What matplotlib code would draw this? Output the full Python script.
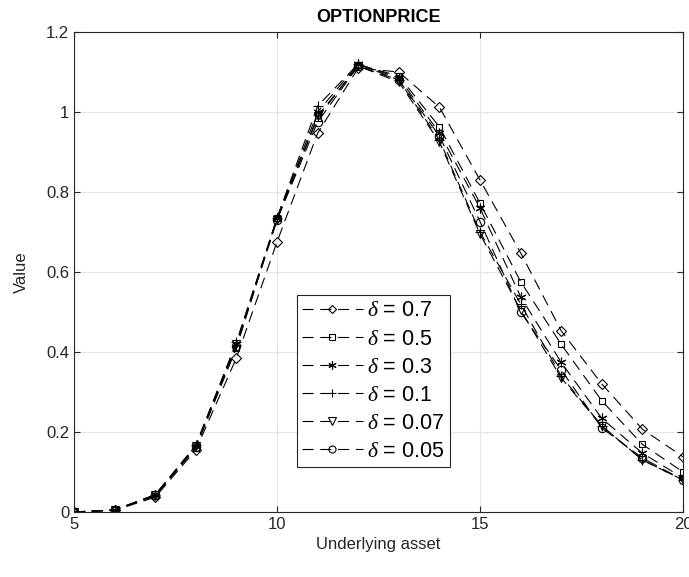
import matplotlib.pyplot as plt
import numpy as np

plt.rcParams['font.family'] = ['Liberation Sans', 'DejaVu Sans']
plt.rcParams['mathtext.fontset'] = 'custom'
plt.rcParams['mathtext.it'] = 'Liberation Serif:italic'
plt.rcParams['mathtext.rm'] = 'Liberation Serif'

x = np.arange(5, 21)
d07 = [0, 0.004, 0.037, 0.155, 0.385, 0.675, 0.947, 1.11, 1.10, 1.012, 0.83, 0.648, 0.453, 0.32, 0.207, 0.138]
d05 = [0, 0.005, 0.040, 0.160, 0.410, 0.735, 0.985, 1.118, 1.09, 0.963, 0.772, 0.576, 0.419, 0.278, 0.169, 0.100]
d03 = [0, 0.005, 0.042, 0.165, 0.420, 0.735, 1.000, 1.120, 1.085, 0.948, 0.760, 0.538, 0.374, 0.234, 0.147, 0.085]
d01 = [0, 0.005, 0.043, 0.167, 0.425, 0.735, 1.015, 1.120, 1.080, 0.930, 0.700, 0.520, 0.340, 0.215, 0.130, 0.080]
d007 = [0, 0.005, 0.043, 0.165, 0.420, 0.730, 0.990, 1.115, 1.075, 0.925, 0.695, 0.505, 0.335, 0.215, 0.130, 0.080]
d005 = [0, 0.005, 0.042, 0.163, 0.415, 0.730, 0.975, 1.115, 1.080, 0.940, 0.726, 0.500, 0.355, 0.210, 0.135, 0.080]

series = [d07, d05, d03, d01, d007, d005]
labels = [r'$\delta$ = 0.7', r'$\delta$ = 0.5', r'$\delta$ = 0.3', r'$\delta$ = 0.1', r'$\delta$ = 0.07', r'$\delta$ = 0.05']
markers = ['D', 's', (6, 2, 0), '+', 'v', 'o']
msizes = [5, 5, 7, 7, 6, 6]

fig = plt.figure(figsize=(6.89, 5.77), dpi=100)
ax = fig.add_axes([0.1074, 0.1127, 0.8839, 0.8318])

for y, lab, m, ms in zip(series, labels, markers, msizes):
    ax.plot(x, y, color='black', lw=0.8, dashes=(10, 6), marker=m, ms=ms,
            mfc='none', mec='black', mew=0.8, label=lab)

ax.set_xlim(5, 20)
ax.set_ylim(0, 1.2)
ax.set_xticks([5, 10, 15, 20])
ax.set_yticks([0, 0.2, 0.4, 0.6, 0.8, 1, 1.2])
ax.set_yticklabels(['0', '0.2', '0.4', '0.6', '0.8', '1', '1.2'])
ax.grid(True, color='#e6e6e6', lw=0.8)
ax.set_axisbelow(True)
ax.tick_params(direction='in', top=True, right=True, labelsize=12, colors='#262626', length=4)
for s in ax.spines.values():
    s.set_color('#262626')
    s.set_linewidth(0.8)
ax.set_xlabel('Underlying asset', fontsize=12, color='#262626')
ax.set_ylabel('Value', fontsize=12, color='#262626', labelpad=12)
ax.set_title('OPTIONPRICE', fontsize=13, fontweight='bold', pad=7)

leg = ax.legend(loc='upper left', bbox_to_anchor=(0.366, 0.452), borderaxespad=0,
                fontsize=15.5, fancybox=False, framealpha=1, edgecolor='#262626',
                handlelength=2.8, labelspacing=0.33, handletextpad=0.2, borderpad=0.25,
                markerscale=0.85)
leg.get_frame().set_linewidth(0.8)

fig.savefig('out.png', dpi=100)
